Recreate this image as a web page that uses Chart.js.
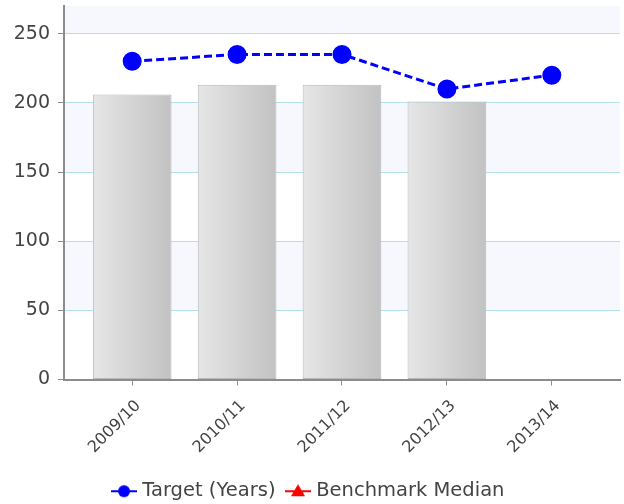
<!DOCTYPE html>
<html>
<head>
<meta charset="utf-8">
<script src="https://cdn.jsdelivr.net/npm/chart.js@4.4.1/dist/chart.umd.min.js"></script>
<style>
  html, body { margin: 0; padding: 0; background: #fff; }
  #wrap { width: 624px; height: 504px; }
</style>
</head>
<body>
<div id="wrap"><canvas id="chart"></canvas></div>
<script>
// values
const categories = ['2009/10', '2010/11', '2011/12', '2012/13', '2013/14'];
const actualValues = [206, 213, 213, 201, null];
const targetValues = [230, 235, 235, 210, 220];
const benchmarkValues = [];
const yTicks = [0, 50, 100, 150, 200, 250];

const FONT = 'DejaVu Sans';
const TEXT = '#444444';

// little canvases used as legend markers (line + symbol)
function legendIcon(color, shape) {
    var c = document.createElement('canvas');
    c.width = 26;
    c.height = 14;
    var g = c.getContext('2d');
    g.strokeStyle = color;
    g.fillStyle = color;
    g.lineWidth = 2;
    g.beginPath();
    g.moveTo(0, 7);
    g.lineTo(26, 7);
    g.stroke();
    g.beginPath();
    if (shape === 'circle') {
        g.arc(13, 7, 6, 0, Math.PI * 2);
    } else {
        g.moveTo(13, 0);
        g.lineTo(20, 12);
        g.lineTo(6, 12);
        g.closePath();
    }
    g.fill();
    return c;
}

function barFill(c) {
    var chart = c.chart;
    var xs = chart.scales.x;
    if (!chart.chartArea || !xs) return '#d4d4d4';
    var cx = xs.getPixelForValue(c.dataIndex);
    var half = (xs.getPixelForValue(1) - xs.getPixelForValue(0)) * 0.75 / 2;
    var grad = chart.ctx.createLinearGradient(cx - half, 0, cx + half, 0);
    grad.addColorStop(0, '#e6e6e6');
    grad.addColorStop(1, '#c2c2c2');
    return grad;
}

// alternating horizontal bands behind the grid
const bandPlugin = {
    id: 'bands',
    beforeDraw(chart) {
        var area = chart.chartArea;
        var ys = chart.scales.y;
        var ctx = chart.ctx;
        var edges = yTicks.concat([ys.max]);
        ctx.save();
        ctx.fillStyle = '#f6f8fe';
        for (var i = 1; i < edges.length - 1; i += 2) {
            var top = ys.getPixelForValue(edges[i + 1]);
            var bottom = ys.getPixelForValue(edges[i]);
            ctx.fillRect(area.left, top, area.right - area.left, bottom - top);
        }
        ctx.restore();
    }
};

function noPad(s) {
    s.paddingTop = 0;
    s.paddingBottom = 0;
    s.paddingLeft = 0;
    s.paddingRight = 0;
}

const ctx = document.getElementById('chart').getContext('2d');
const chart = new Chart(ctx, {
    data: {
        datasets: [{
            type: 'line',
            label: 'Target (Years)',
            data: categories.map((c, i) => ({ x: i, y: targetValues[i] })),
            borderColor: '#0000ff',
            backgroundColor: '#0000ff',
            borderWidth: 3,
            borderDash: [8, 4],
            pointRadius: 8,
            pointHoverRadius: 8,
            order: 1
        }, {
            type: 'line',
            label: 'Benchmark Median',
            data: benchmarkValues,
            borderColor: '#ff0000',
            backgroundColor: '#ff0000',
            pointStyle: 'triangle',
            order: 1
        }, {
            type: 'bar',
            label: 'Actual',
            data: categories.map((c, i) => ({ x: i, y: actualValues[i] })),
            backgroundColor: barFill,
            borderColor: '#b8b8b8',
            borderWidth: 1,
            borderSkipped: false,
            categoryPercentage: 1,
            barPercentage: 0.75,
            order: 2
        }]
    },
    options: {
        responsive: true,
        maintainAspectRatio: false,
        animation: false,
        layout: { autoPadding: false, padding: { top: 6, right: 4, left: 0, bottom: -7 } },
        scales: {
            x: {
                type: 'linear',
                min: -0.65,
                max: 4.65,
                offset: false,
                border: { display: true, color: '#8c8c8c', width: 2 },
                grid: { offset: false, drawOnChartArea: false, tickLength: 6, tickColor: '#8c8c8c' },
                afterBuildTicks: s => { s.ticks = categories.map((c, i) => ({ value: i })); },
                ticks: {
                    autoSkip: false,
                    minRotation: 45,
                    maxRotation: 45,
                    padding: 11,
                    labelOffset: 6,
                    color: TEXT,
                    font: { family: FONT, size: 16 },
                    callback: v => categories[v]
                },
                afterFit: s => { noPad(s); s.height = 88; }
            },
            y: {
                min: 0,
                max: 270,
                border: { display: true, color: '#8c8c8c', width: 2 },
                grid: { color: '#b4e0e8', tickLength: 6, tickColor: '#8c8c8c' },
                ticks: {
                    stepSize: 50,
                    includeBounds: false,
                    padding: 8,
                    color: TEXT,
                    font: { family: FONT, size: 19 }
                },
                afterFit: s => { noPad(s); s.width = 64; }
            }
        },
        plugins: {
            tooltip: { enabled: false },
            legend: {
                position: 'bottom',
                labels: {
                    usePointStyle: true,
                    pointStyleWidth: 17,
                    padding: 14,
                    color: TEXT,
                    font: { family: FONT, size: 19.5 },
                    filter: item => item.text !== 'Actual',
                    generateLabels: function(chart) {
                        var items = Chart.defaults.plugins.legend.labels.generateLabels(chart);
                        items.forEach(function(it) {
                            it.pointStyle = it.text === 'Benchmark Median'
                                ? legendIcon('#ff0000', 'triangle')
                                : legendIcon('#0000ff', 'circle');
                        });
                        return items;
                    }
                }
            }
        }
    },
    plugins: [bandPlugin]
});
</script>
</body>
</html>
